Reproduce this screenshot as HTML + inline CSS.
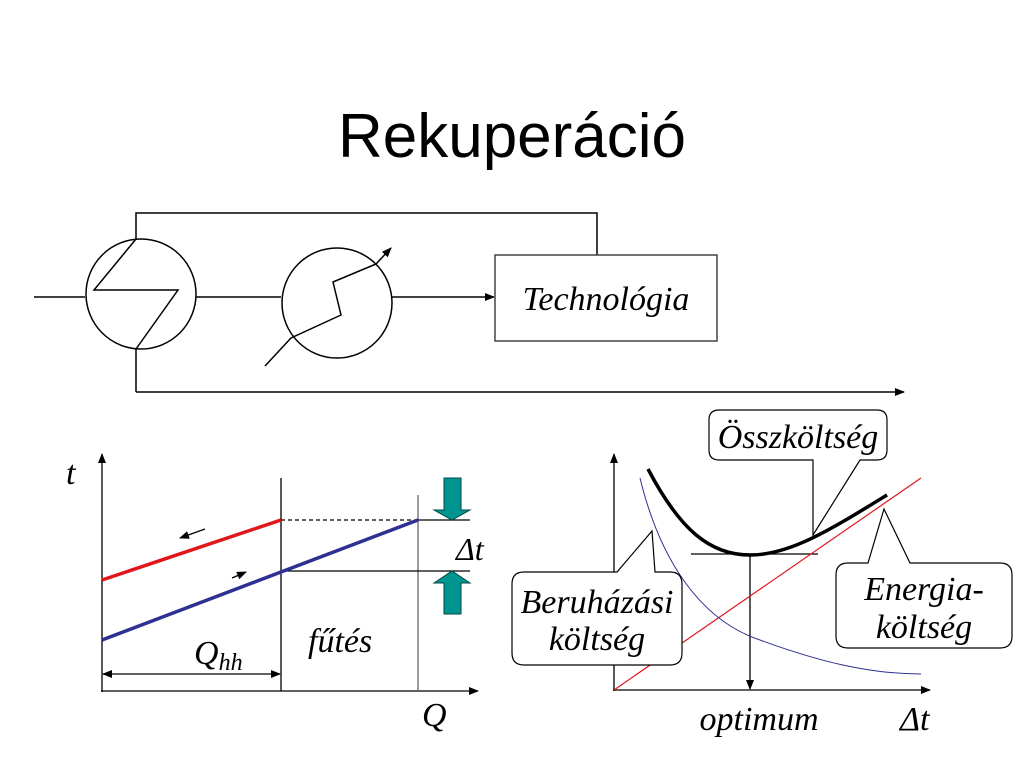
<!DOCTYPE html>
<html><head><meta charset="utf-8"><style>
body{margin:0;background:#fff;}
svg{display:block}
.t{font-family:"Liberation Serif",serif;font-style:italic;}
</style></head><body>
<svg width="1024" height="768" xmlns="http://www.w3.org/2000/svg">
<defs>
<marker id="a" markerWidth="10" markerHeight="8" refX="9" refY="4" orient="auto" markerUnits="userSpaceOnUse"><path d="M0,0 L10,4 L0,8 z" fill="#000"/></marker>
<marker id="b" markerWidth="10" markerHeight="8" refX="1" refY="4" orient="auto" markerUnits="userSpaceOnUse"><path d="M10,0 L0,4 L10,8 z" fill="#000"/></marker>
</defs>
<text x="512" y="157" text-anchor="middle" font-family="Liberation Sans,sans-serif" font-size="62">Rekuperáció</text>
<g stroke="#000" stroke-width="1.5" fill="none">
<line x1="34" y1="297" x2="85" y2="297"/>
<circle cx="141" cy="294" r="55"/>
<polyline points="136,239 94,290 178,290 136,349"/>
<polyline points="136,239 136,213 597,213 597,255"/>
<line x1="136" y1="349" x2="136" y2="392"/>
<line x1="136" y1="392" x2="904" y2="392" marker-end="url(#a)"/>
<line x1="196" y1="297" x2="281" y2="297"/>
<circle cx="337" cy="303" r="55"/>
<polyline points="265,366 291,338 341,315 333,282 376,264"/>
<line x1="376" y1="264" x2="391" y2="248" marker-end="url(#a)"/>
<line x1="392" y1="297" x2="494" y2="297" marker-end="url(#a)"/>
<rect x="495" y="255" width="222" height="86" stroke="#444"/>
</g>
<text x="606" y="310" text-anchor="middle" class="t" font-size="34">Technológia</text>

<g stroke="#000" stroke-width="1.3" fill="none">
<line x1="102" y1="692" x2="102" y2="454" marker-end="url(#a)"/>
<line x1="101" y1="691" x2="478" y2="691" marker-end="url(#a)"/>
<line x1="281" y1="478" x2="281" y2="691"/>
<line x1="418" y1="495" x2="418" y2="691" stroke="#666"/>
<line x1="281" y1="520" x2="418" y2="520" stroke-dasharray="4,3"/>
<line x1="418" y1="520" x2="470" y2="520"/>
<line x1="281" y1="571" x2="470" y2="571"/>
<line x1="103" y1="674" x2="280" y2="674" marker-end="url(#a)" marker-start="url(#b)"/>
<line x1="205" y1="529" x2="180" y2="538" marker-end="url(#a)"/>
<line x1="232" y1="578" x2="246" y2="572" marker-end="url(#a)"/>
</g>
<line x1="102" y1="580" x2="281" y2="520" stroke="#e0161a" stroke-width="3.5"/>
<line x1="102" y1="640" x2="418" y2="520" stroke="#2e3192" stroke-width="3.5"/>
<path d="M444,478 H461 V510 H470 L452,520 L434,510 H444 Z" fill="#009490" stroke="#004a48" stroke-width="1"/>
<path d="M444,614 H461 V583 H470 L452,571 L434,583 H444 Z" fill="#009490" stroke="#004a48" stroke-width="1"/>
<text x="66" y="484" class="t" font-size="34">t</text>
<text x="456" y="560" class="t" font-size="32">Δt</text>
<text x="194" y="664" class="t" font-size="34">Q<tspan font-size="24" dy="6">hh</tspan></text>
<text x="308" y="652" class="t" font-size="34">fűtés</text>
<text x="422" y="726" class="t" font-size="34">Q</text>

<g stroke="#000" stroke-width="1.3" fill="none">
<line x1="614" y1="691" x2="614" y2="454" marker-end="url(#a)"/>
<line x1="613" y1="690" x2="930" y2="690" marker-end="url(#a)"/>
<line x1="691" y1="554" x2="818" y2="554"/>
<line x1="750" y1="555" x2="750" y2="689" marker-end="url(#a)"/>
</g>
<line x1="614" y1="690" x2="921" y2="478" stroke="#e0161a" stroke-width="1.2"/>
<path d="M640,478 C660,560 700,620 760,640 C820,662 870,674 921,674" stroke="#2e3192" stroke-width="1" fill="none"/>
<path d="M648,469 C680,530 710,555 750,555 C790,555 830,530 887,495" stroke="#000" stroke-width="3.5" fill="none"/>
<g stroke="#000" stroke-width="1.2" fill="#fff">
<path d="M719,410 H877 Q887,410 887,420 V450 Q887,460 877,460 H860 L813,535 L813,460 H719 Q709,460 709,450 V420 Q709,410 719,410 Z"/>
<path d="M524,572 H617 L652,531 L655,572 H670 Q682,572 682,584 V653 Q682,665 670,665 H524 Q512,665 512,653 V584 Q512,572 524,572 Z"/>
<path d="M848,563 H868 L884,509 L910,563 H1000 Q1012,563 1012,575 V636 Q1012,648 1000,648 H848 Q836,648 836,636 V575 Q836,563 848,563 Z"/>
</g>
<text x="798" y="448" text-anchor="middle" class="t" font-size="34">Összköltség</text>
<text x="597" y="613" text-anchor="middle" class="t" font-size="34">Beruházási</text>
<text x="597" y="650" text-anchor="middle" class="t" font-size="34">költség</text>
<text x="924" y="600" text-anchor="middle" class="t" font-size="34">Energia-</text>
<text x="924" y="638" text-anchor="middle" class="t" font-size="34">költség</text>
<text x="759" y="730" text-anchor="middle" class="t" font-size="34">optimum</text>
<text x="900" y="730" class="t" font-size="34">Δt</text>
</svg>
</body></html>
